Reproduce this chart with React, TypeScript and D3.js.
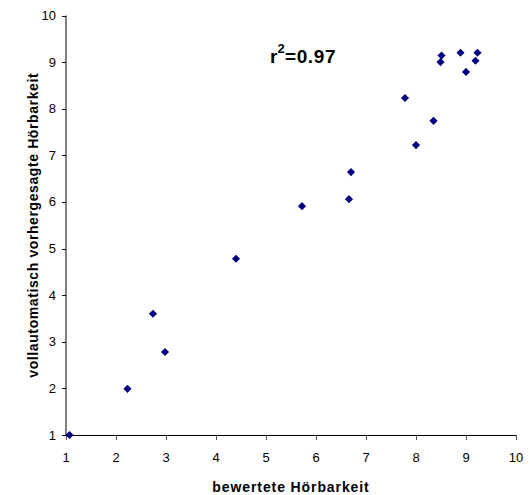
import React from 'react';
import * as d3 from 'd3';

// bewertete vs. vorhergesagte Hörbarkeit
const rated = [1.07, 2.23, 2.74, 2.98, 4.4, 5.72, 6.66, 6.7, 7.78, 8.0, 8.35, 8.49, 8.51, 8.89, 9.0, 9.19, 9.23];
const predicted = [1.0, 1.99, 3.6, 2.78, 4.78, 5.91, 6.06, 6.64, 8.23, 7.22, 7.74, 9.0, 9.14, 9.2, 8.79, 9.03, 9.2];
const xTicks = [1, 2, 3, 4, 5, 6, 7, 8, 9, 10];
const yTicks = [1, 2, 3, 4, 5, 6, 7, 8, 9, 10];
const rSquared = '0.97';

const W = 530;
const H = 495;
const font = 'Arial, "Liberation Sans", sans-serif';

export default function App() {
    const x = d3.scaleLinear().domain([1, 10]).range([66, 516]);
    const y = d3.scaleLinear().domain([1, 10]).range([435, 15.5]);
    const diamond = d3.symbol().type(d3.symbolDiamond2).size(42)();

    return (
        <svg width={W} height={H} style={{ position: 'absolute', left: 0, top: 0, background: '#fff' }}
            fontFamily={font}>
            {/* y axis */}
            <line x1={x(1)} x2={x(1)} y1={y(1)} y2={y(10)} stroke="#000" />
            {yTicks.map(t => (
                <g key={'y' + t}>
                    <line x1={x(1) - 4} x2={x(1)} y1={Math.round(y(t)) + 0.5} y2={Math.round(y(t)) + 0.5} stroke="#000" />
                    <text x={x(1) - 10} y={y(t)} dy="0.35em" textAnchor="end" fontSize={13}>{t}</text>
                </g>
            ))}
            {/* x axis */}
            <line x1={x(1)} x2={x(10)} y1={y(1) + 0.5} y2={y(1) + 0.5} stroke="#000" />
            {xTicks.map(t => (
                <g key={'x' + t}>
                    <line x1={Math.round(x(t)) + 0.5} x2={Math.round(x(t)) + 0.5} y1={y(1)} y2={y(1) + 5} stroke="#555" />
                    <text x={x(t)} y={y(1) + 27} textAnchor="middle" fontSize={13}>{t}</text>
                </g>
            ))}
            {/* points */}
            {rated.map((r, i) => (
                <path key={i} d={diamond} transform={`translate(${x(r)},${y(predicted[i])})`} fill="#000080" />
            ))}
            {/* titles */}
            <text x={x(5.5)} y={492} textAnchor="middle" fontSize={14} fontWeight="bold" letterSpacing={0.9}>
                bewertete Hörbarkeit
            </text>
            <text transform={`translate(38,${y(5.5)}) rotate(-90)`} textAnchor="middle" fontSize={14}
                fontWeight="bold" letterSpacing={0.6}>
                vollautomatisch vorhergesagte Hörbarkeit
            </text>
            {/* r² label */}
            <g fontWeight="bold">
                <text x={270} y={63} fontSize={19}>r</text>
                <text x={277.5} y={53} fontSize={13}>2</text>
                <text x={285} y={63} fontSize={19} letterSpacing={0.6}>={rSquared}</text>
            </g>
        </svg>
    );
}
